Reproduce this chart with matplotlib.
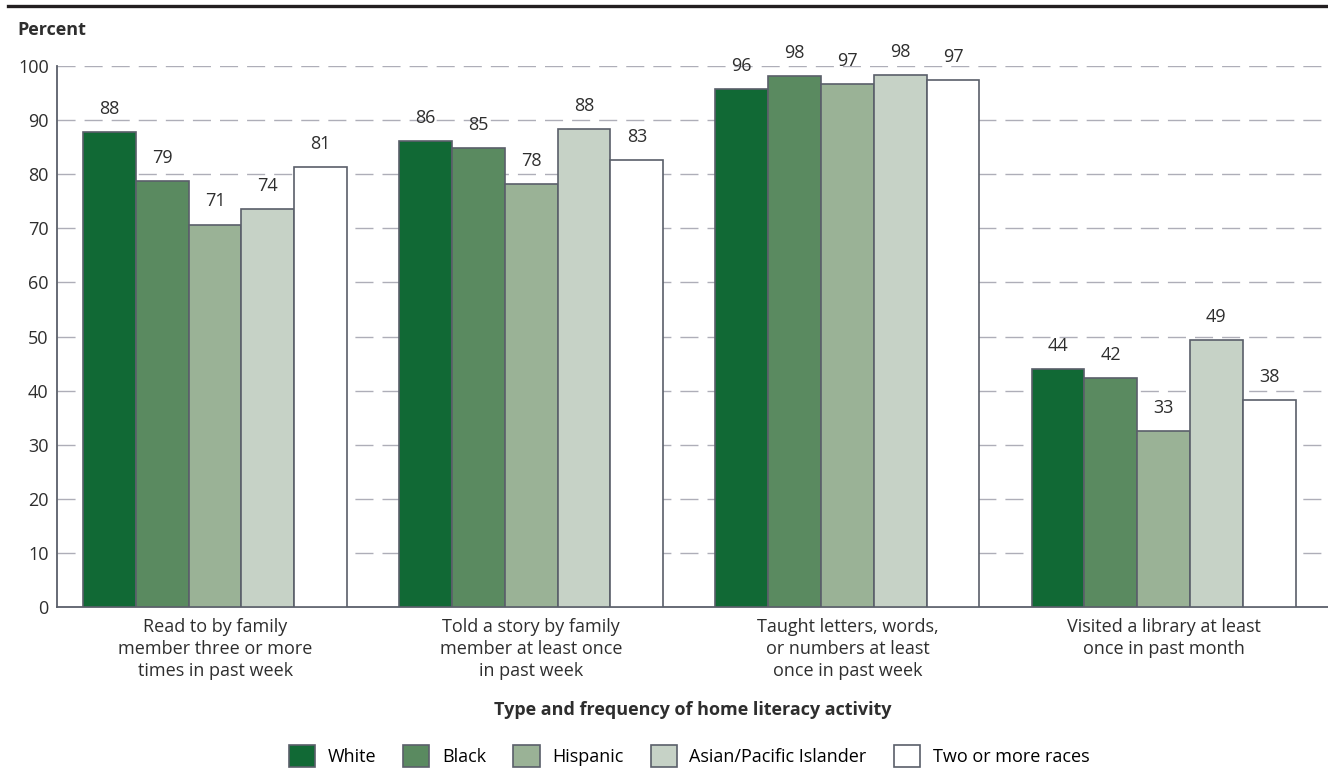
import numpy as np
import matplotlib
matplotlib.use("Agg")
import matplotlib.pyplot as plt
from matplotlib.lines import Line2D
from matplotlib.patches import Patch

plt.rcParams['font.family'] = ['Open Sans', 'DejaVu Sans']

categories = [
    "Read to by family\nmember three or more\ntimes in past week",
    "Told a story by family\nmember at least once\nin past week",
    "Taught letters, words,\nor numbers at least\nonce in past week",
    "Visited a library at least\nonce in past month",
]
groups = ["White", "Black", "Hispanic", "Asian/Pacific Islander", "Two or more races"]
white = [87.8, 86.1, 95.7, 44.0]
black = [78.8, 84.8, 98.2, 42.3]
hispanic = [70.7, 78.2, 96.6, 32.6]
asian = [73.6, 88.4, 98.3, 49.3]
two_or_more = [81.3, 82.6, 97.4, 38.3]
series = [white, black, hispanic, asian, two_or_more]
colors = ["#116935", "#5a8a60", "#9ab296", "#c6d2c6", "#ffffff"]
edge = "#5a5f6a"
txt = "#2e2e2e"

fig = plt.figure(figsize=(13.28, 7.68), dpi=100)
ax = fig.add_axes([57 / 1328, 161 / 768, 1 - 57 / 1328, (607 - 66) / 768])

x = np.arange(len(categories))
width = 0.167
for i, (vals, col) in enumerate(zip(series, colors)):
    pos = x + (i - 2) * width
    ax.bar(pos, vals, width, color=col, edgecolor=edge, linewidth=1.2, zorder=3)
    for p, v in zip(pos, vals):
        ax.text(p, v + 2.6, f"{v:.0f}", ha="center", va="bottom", fontsize=13, color=txt)

ax.set_xlim(-0.5, 3.52)
ax.set_ylim(0, 100)
ax.set_yticks(np.arange(0, 101, 10))
ax.tick_params(axis="y", length=0, labelsize=13, pad=6, labelcolor=txt)
ax.tick_params(axis="x", length=0, labelsize=13, pad=8, labelcolor=txt)
ax.set_xticks(x)
ax.set_xticklabels(categories, linespacing=1.28)
for y in range(10, 101, 10):
    ax.axhline(y, color="#aeaeb8", linewidth=1, dashes=(13, 6.5), zorder=1)

for s in ["top", "right"]:
    ax.spines[s].set_visible(False)
for s in ["left", "bottom"]:
    ax.spines[s].set_color(edge)
    ax.spines[s].set_linewidth(1.3)

ax.set_xlabel("Type and frequency of home literacy activity", fontsize=13, fontweight="bold",
              labelpad=15, color=txt)

fig.add_artist(Line2D([8 / 1328, 1], [1 - 6 / 768, 1 - 6 / 768], color="#231f20", linewidth=2.4))
fig.text(17 / 1328, 1 - 30 / 768, "Percent", fontsize=13, fontweight="bold", va="center",
         ha="left", color=txt)

handles = [Patch(facecolor=c, edgecolor=edge, linewidth=1.2) for c in colors]
fig.legend(handles, groups, loc="center", bbox_to_anchor=(689 / 1328, 1 - 756 / 768), ncol=5,
           frameon=False, fontsize=13, handlelength=1.45, handleheight=1.45,
           handletextpad=0.7, columnspacing=1.5)

fig.savefig("out.png", dpi=100)
